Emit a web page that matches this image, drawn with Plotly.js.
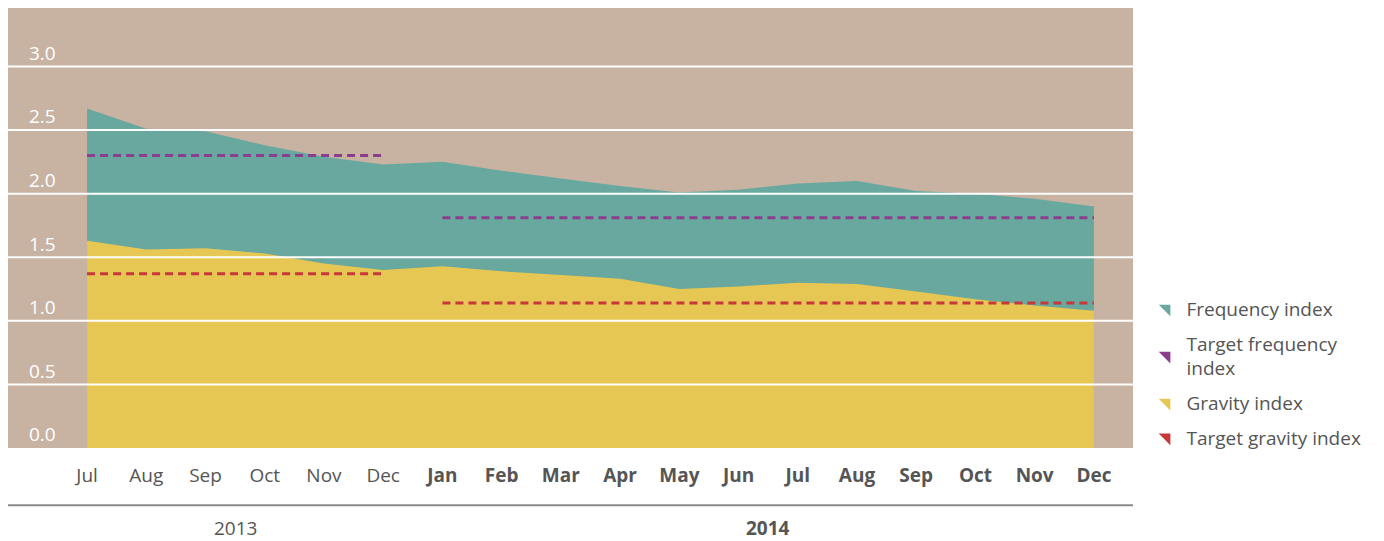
<!DOCTYPE html>
<html>
<head>
<meta charset="utf-8">
<script src="https://cdn.plot.ly/plotly-3.0.1.min.js"></script>
<style>html,body{margin:0;padding:0;background:#fff;}#chart{width:1384px;height:541px;}</style>
</head>
<body>
<div id="chart"></div>
<script>
// ---- data ----
var months = ["Jul","Aug","Sep","Oct","Nov","Dec","Jan","Feb","Mar","Apr","May","Jun","Jul","Aug","Sep","Oct","Nov","Dec"];
var monthYear = [2013,2013,2013,2013,2013,2013,2014,2014,2014,2014,2014,2014,2014,2014,2014,2014,2014,2014];
var frequencyIndex = [2.67,2.51,2.49,2.38,2.29,2.23,2.25,2.18,2.12,2.06,2.01,2.03,2.08,2.10,2.02,2.00,1.96,1.90];
var gravityIndex   = [1.63,1.56,1.57,1.53,1.45,1.40,1.43,1.39,1.36,1.33,1.25,1.27,1.30,1.29,1.23,1.17,1.12,1.08];
var targetFrequency = {2013: 2.30, 2014: 1.81};
var targetGravity   = {2013: 1.37, 2014: 1.14};
var years = [2013, 2014];
var yTicks = [0, 0.5, 1.0, 1.5, 2.0, 2.5, 3.0];
var seriesNames = ["Frequency index","Target frequency index","Gravity index","Target gravity index"];

// ---- styles ----
var C = {teal:"#68A89E", purple:"#8B3E8E", yellow:"#E6C753", red:"#C8373A", bg:"#C8B3A3", text:"#555555"};
var FONT = "'Open Sans', Roboto, sans-serif";
var FS = 19;

var xIdx = months.map(function(_, i){ return i; });
function idxOfYear(y){ return xIdx.filter(function(i){ return monthYear[i] === y; }); }

var traces = [];
traces.push({x: xIdx, y: frequencyIndex, type:"scatter", mode:"none", fill:"tozeroy",
  fillcolor: C.teal, showlegend:false, hoverinfo:"y"});
traces.push({x: xIdx, y: gravityIndex, type:"scatter", mode:"none", fill:"tozeroy",
  fillcolor: C.yellow, showlegend:false, hoverinfo:"y"});

years.forEach(function(yr){
  var ix = idxOfYear(yr);
  traces.push({x: ix, y: ix.map(function(){ return targetFrequency[yr]; }), type:"scatter", mode:"lines",
    line:{color:C.purple, width:3, dash:"8px,5px"}, showlegend:false, hoverinfo:"y"});
  traces.push({x: ix, y: ix.map(function(){ return targetGravity[yr]; }), type:"scatter", mode:"lines",
    line:{color:C.red, width:3, dash:"8px,5px"}, showlegend:false, hoverinfo:"y"});
});

// legend entries (triangle keys)
var legendColors = [C.teal, C.purple, C.yellow, C.red];
var legendLabels = ["Frequency index","Target frequency<br>index","Gravity index","Target gravity index"];
legendLabels.forEach(function(lbl, i){
  traces.push({x:[null], y:[null], type:"scatter", mode:"markers", name: lbl, legendgroup:"g" + i,
    marker:{symbol:"triangle-ne", size:13, color: legendColors[i], line:{width:0}}, showlegend:true});
});

var tickText = months.map(function(m, i){ return monthYear[i] === 2014 ? "<b>" + m + "</b>" : m; });

var shapes = yTicks.filter(function(v){ return v > 0; }).map(function(v){
  return {type:"line", xref:"paper", yref:"y", x0:0, x1:1, y0:v, y1:v, layer:"above",
    line:{color:"#ffffff", width:2}};
});
shapes.push({type:"line", xref:"paper", yref:"paper", x0:0, x1:1, y0:-0.13, y1:-0.13,
  line:{color:"#8a8a8a", width:2}});

var annotations = years.map(function(yr){
  var ix = idxOfYear(yr);
  var mid = (ix[0] + ix[ix.length-1]) / 2;
  return {x: mid, xref:"x", y:-0.182, yref:"paper", showarrow:false,
    text: yr === 2014 ? "<b>" + yr + "</b>" : String(yr),
    font:{family:FONT, size:FS, color:C.text}, yanchor:"middle"};
});

var layout = {
  width:1384, height:541,
  margin:{l:8, r:251, t:8, b:93},
  paper_bgcolor:"#ffffff", plot_bgcolor:C.bg,
  font:{family:FONT, size:FS, color:C.text},
  xaxis:{range:[-1.335, 17.66], tickmode:"array", tickvals:xIdx, ticktext:tickText,
    showgrid:false, zeroline:false, showline:false, ticks:"outside", ticklen:10,
    tickcolor:"rgba(0,0,0,0)", tickfont:{family:FONT, size:FS, color:C.text}, fixedrange:true},
  yaxis:{range:[0, 3.46], tickmode:"array", tickvals:yTicks,
    ticktext: yTicks.map(function(v){ return v.toFixed(1); }),
    ticklabelposition:"inside top", ticklabelstandoff:18,
    showgrid:false, zeroline:false, showline:false, ticks:"",
    tickfont:{family:FONT, size:FS, color:"#ffffff"}, fixedrange:true},
  showlegend:true,
  legend:{x:1.012, xanchor:"left", y:0.17, yanchor:"middle", bgcolor:"rgba(0,0,0,0)",
    font:{family:FONT, size:FS, color:C.text}, traceorder:"grouped", itemwidth:30, tracegroupgap:7},
  shapes: shapes,
  annotations: annotations
};

Plotly.newPlot("chart", traces, layout, {displayModeBar:false, staticPlot:true});
</script>
</body>
</html>
